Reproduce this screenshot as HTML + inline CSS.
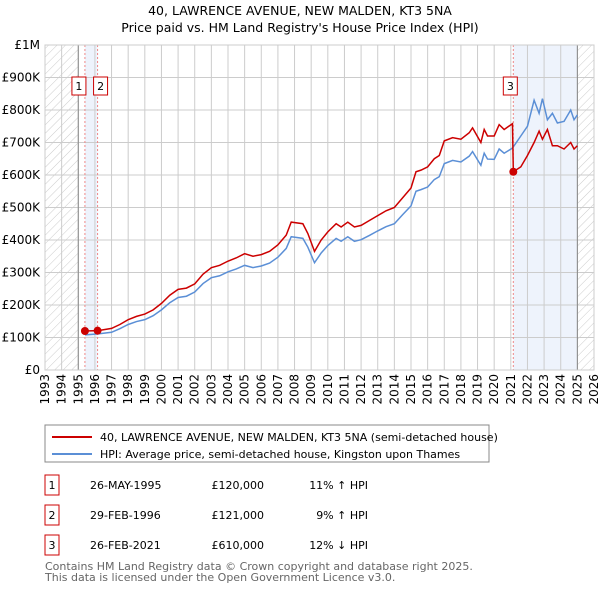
<!DOCTYPE html>
<html><head><meta charset="utf-8"><style>
body{margin:0;background:#fff;font-family:"Liberation Sans","DejaVu Sans",sans-serif;}
svg text{font-family:"DejaVu Sans","Liberation Sans",sans-serif;}
</style></head><body>
<svg id="c" width="600" height="590" xmlns="http://www.w3.org/2000/svg">
<defs><pattern id="h" width="6" height="6" patternUnits="userSpaceOnUse" patternTransform="rotate(45)"><line x1="0" y1="0" x2="0" y2="6" stroke="#ccc" stroke-width="1"/></pattern></defs>
<text x="300" y="15" text-anchor="middle" font-size="12.5">40, LAWRENCE AVENUE, NEW MALDEN, KT3 5NA</text>
<text x="300" y="32" text-anchor="middle" font-size="12.5">Price paid vs. HM Land Registry's House Price Index (HPI)</text>
<g id="plot"></g>
<g>
<rect x="45" y="425" width="444" height="37" fill="#fff" stroke="#888"/>
<line x1="52" y1="437" x2="92" y2="437" stroke="#cc0000" stroke-width="2"/>
<text x="100" y="441" font-size="11">40, LAWRENCE AVENUE, NEW MALDEN, KT3 5NA (semi-detached house)</text>
<line x1="52" y1="454" x2="92" y2="454" stroke="#5b8fd6" stroke-width="2"/>
<text x="100" y="458" font-size="11">HPI: Average price, semi-detached house, Kingston upon Thames</text>
</g>
<g font-size="11">
<rect x="45" y="475" width="14" height="20" fill="#fff" stroke="#cc0000"/><text x="52" y="489" text-anchor="middle">1</text>
<text x="90" y="489">26-MAY-1995</text><text x="264" y="489" text-anchor="end">£120,000</text><text x="368" y="489" text-anchor="end">11% ↑ HPI</text>
<rect x="45" y="505" width="14" height="20" fill="#fff" stroke="#cc0000"/><text x="52" y="519" text-anchor="middle">2</text>
<text x="90" y="519">29-FEB-1996</text><text x="264" y="519" text-anchor="end">£121,000</text><text x="368" y="519" text-anchor="end">9% ↑ HPI</text>
<rect x="45" y="535" width="14" height="20" fill="#fff" stroke="#cc0000"/><text x="52" y="549" text-anchor="middle">3</text>
<text x="90" y="549">26-FEB-2021</text><text x="264" y="549" text-anchor="end">£610,000</text><text x="368" y="549" text-anchor="end">12% ↓ HPI</text>
</g>
<text x="45" y="570" font-size="11" fill="#666">Contains HM Land Registry data © Crown copyright and database right 2025.</text>
<text x="45" y="581" font-size="11" fill="#666">This data is licensed under the Open Government Licence v3.0.</text>
</svg>
<script>
const yTicks=[0,100000,200000,300000,400000,500000,600000,700000,800000,900000,1000000];
const yTickLabels=["£0","£100K","£200K","£300K","£400K","£500K","£600K","£700K","£800K","£900K","£1M"];
const years=[1993,1994,1995,1996,1997,1998,1999,2000,2001,2002,2003,2004,2005,2006,2007,2008,2009,2010,2011,2012,2013,2014,2015,2016,2017,2018,2019,2020,2021,2022,2023,2024,2025,2026];
const priceT=[1995.4,1996.2,1997,1997.5,1998,1998.5,1999,1999.5,2000,2000.5,2001,2001.5,2002,2002.5,2003,2003.5,2004,2004.5,2005,2005.5,2006,2006.5,2007,2007.5,2007.8,2008.5,2008.8,2009.2,2009.6,2010,2010.5,2010.8,2011.2,2011.6,2012,2012.5,2013,2013.5,2014,2014.5,2015,2015.3,2015.6,2016,2016.4,2016.7,2017,2017.5,2018,2018.5,2018.7,2019.2,2019.4,2019.6,2020,2020.3,2020.6,2021.1,2021.15,2021.6,2022,2022.4,2022.7,2022.9,2023.2,2023.5,2023.8,2024.2,2024.6,2024.8,2025];
const priceV=[120000,121000,128000,140000,155000,165000,172000,185000,205000,230000,248000,252000,265000,295000,315000,322000,335000,345000,358000,350000,355000,365000,385000,415000,455000,450000,420000,365000,400000,425000,450000,440000,455000,440000,445000,460000,475000,490000,500000,530000,560000,610000,615000,625000,650000,660000,705000,715000,710000,730000,745000,700000,740000,720000,720000,755000,740000,758000,610000,625000,660000,700000,735000,710000,740000,690000,690000,680000,700000,680000,690000];
const hpiT=[1995.4,1996.2,1997,1997.5,1998,1998.5,1999,1999.5,2000,2000.5,2001,2001.5,2002,2002.5,2003,2003.5,2004,2004.5,2005,2005.5,2006,2006.5,2007,2007.5,2007.8,2008.5,2008.8,2009.2,2009.6,2010,2010.5,2010.8,2011.2,2011.6,2012,2012.5,2013,2013.5,2014,2014.5,2015,2015.3,2015.6,2016,2016.4,2016.7,2017,2017.5,2018,2018.5,2018.7,2019.2,2019.4,2019.6,2020,2020.3,2020.6,2021.1,2021.6,2022,2022.4,2022.7,2022.9,2023.2,2023.5,2023.8,2024.2,2024.6,2024.8,2025];
const hpiV=[108000,111000,116000,127000,140000,149000,155000,167000,185000,207000,223000,227000,240000,266000,284000,290000,302000,311000,322000,315000,320000,329000,347000,374000,410000,405000,378000,330000,360000,383000,405000,396000,410000,396000,401000,414000,428000,441000,450000,478000,505000,550000,555000,563000,586000,595000,635000,645000,640000,658000,672000,630000,667000,649000,648000,680000,667000,683000,720000,750000,830000,790000,835000,770000,790000,760000,765000,800000,770000,785000];
const saleT=[1995.4,1996.16,2021.15];
const saleV=[120000,121000,610000];
const saleLbl=["1","2","3"];
const X0=45,X1=594,Y0=370,Y1=45;
const x=t=>X0+(t-1993)/(2026-1993)*(X1-X0);
const y=v=>Y0-v/1000000*(Y0-Y1);
const NS="http://www.w3.org/2000/svg";
const g=document.getElementById('plot');
function mk(tag,a){const e=document.createElementNS(NS,tag);for(const k in a)e.setAttribute(k,a[k]);g.appendChild(e);return e;}
let e;
e=mk('rect',{x:X0,y:Y1,width:X1-X0,height:Y0-Y1,fill:'#fff'});


e=mk('rect',{x:X0,y:Y1,width:x(1995)-X0,height:Y0-Y1,fill:'url(#h)'});


e=mk('rect',{x:x(2025),y:Y1,width:X1-x(2025),height:Y0-Y1,fill:'url(#h)'});


e=mk('rect',{x:x(saleT[0]),y:Y1,width:x(saleT[1])-x(saleT[0]),height:Y0-Y1,fill:'#eef3fc'});


e=mk('rect',{x:x(saleT[2]),y:Y1,width:x(2025)-x(saleT[2]),height:Y0-Y1,fill:'#eef3fc'});


yTicks.forEach((v,i)=>{
 e=mk('line',{x1:X0,x2:X1,y1:y(v),y2:y(v),stroke:'#ccc'});
 
 
 e=mk('text',{x:X0-5,y:y(v)+4,'text-anchor':'end','font-size':12});
 
 
 e.textContent=yTickLabels[i];
});
years.forEach(yr=>{
 e=mk('line',{x1:x(yr),x2:x(yr),y1:Y1,y2:Y0,stroke:'#ccc'});
 
 
 const tx=x(yr)+4, ty=374;
 e=mk('text',{x:tx,y:ty,'text-anchor':'end','font-size':12,transform:'rotate(-90 '+tx+' '+ty+')'});
 
 
 e.textContent=yr;
});
e=mk('line',{x1:x(1995),x2:x(1995),y1:Y1,y2:Y0,stroke:'#888'});


e=mk('line',{x1:x(2025),x2:x(2025),y1:Y1,y2:Y0,stroke:'#888'});


saleT.forEach(t=>{
 e=mk('line',{x1:x(t),x2:x(t),y1:Y1,y2:Y0,stroke:'#e88','stroke-dasharray':'2,2'});
 
 
});
e=mk('rect',{x:X0,y:Y1,width:X1-X0,height:Y0-Y1,fill:'none',stroke:'#ccc'});


e=mk('polyline',{points:hpiT.map((t,i)=>x(t)+','+y(hpiV[i])).join(' '),fill:'none',stroke:'#5b8fd6','stroke-width':1.5});


e=mk('polyline',{points:priceT.map((t,i)=>x(t)+','+y(priceV[i])).join(' '),fill:'none',stroke:'#cc0000','stroke-width':1.5});


saleT.forEach((t,i)=>{
 e=mk('circle',{cx:x(t),cy:y(saleV[i]),r:4,fill:'#cc0000'});
 
 
});
const boxX=[x(saleT[0])-11,x(saleT[1])-2,x(saleT[2])-8];
saleT.forEach((t,i)=>{
 e=mk('rect',{x:boxX[i]-2,y:77,width:14,height:18,fill:'#fff',stroke:'#cc0000'});
 
 
 e=mk('text',{x:boxX[i]+5,y:90,'text-anchor':'middle','font-size':11});
 
 
 e.textContent=saleLbl[i];
});
</script>
</body></html>
